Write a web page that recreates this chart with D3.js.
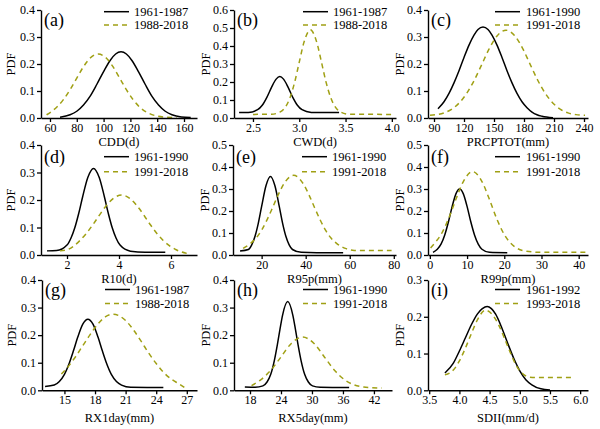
<!DOCTYPE html>
<html><head><meta charset="utf-8">
<script src="https://cdn.jsdelivr.net/npm/d3@7"></script>
<style>
body{margin:0;background:#fff}
svg{display:block;font-family:"Liberation Serif","Times New Roman",serif}
</style>
</head><body>
<svg id="c" width="600" height="429"></svg>
<script>
// ---------- DATA ----------
const panelIds = ["(a)","(b)","(c)","(d)","(e)","(f)","(g)","(h)","(i)"];
const xTitles = ["CDD(d)","CWD(d)","PRCPTOT(mm)","R10(d)","R95p(mm)","R99p(mm)","RX1day(mm)","RX5day(mm)","SDII(mm/d)"];
const legendEarly = ["1961-1987","1961-1987","1961-1990","1961-1990","1961-1990","1961-1990","1961-1987","1961-1990","1961-1992"];
const legendLate  = ["1988-2018","1988-2018","1991-2018","1991-2018","1991-2018","1991-2018","1988-2018","1991-2018","1993-2018"];

const xTicksA = [60,80,100,120,140,160];
const xTicksB = [2.5,3.0,3.5,4.0];
const xTicksC = [90,120,150,180,210,240];
const xTicksD = [2,4,6];
const xTicksE = [20,40,60,80];
const xTicksF = [0,10,20,30,40];
const xTicksG = [15,18,21,24,27];
const xTicksH = [18,24,30,36,42];
const xTicksI = [3.5,4.0,4.5,5.0,5.5,6.0];
const yMaxes = [0.4,0.6,0.4,0.4,0.5,0.5,0.4,0.4,0.3];

// early period (solid black) and late period (dashed) PDF curves: [x, pdf]
const cddEarly = [[67.5,0.003],[75,0.012],[80,0.025],[85,0.048],[90,0.081],[95,0.125],[100,0.172],[105,0.214],[109,0.237],[113,0.245],[117,0.237],[121,0.214],[126,0.172],[131,0.125],[136,0.081],[141,0.048],[146,0.025],[151,0.012],[158,0.004],[165,0.002]];
const cddLate  = [[57.5,0.012],[65,0.040],[70,0.068],[75,0.105],[80,0.148],[85,0.190],[90,0.222],[96,0.237],[102,0.222],[107,0.190],[112,0.148],[117,0.105],[122,0.068],[127,0.040],[134,0.017],[140,0.007],[147,0.003],[154.5,0.002]];

const cwdEarly = [[2.35,0.03],[2.45,0.031],[2.55,0.046],[2.6,0.071],[2.65,0.115],[2.7,0.170],[2.75,0.216],[2.79,0.231],[2.83,0.216],[2.88,0.170],[2.93,0.115],[2.98,0.071],[3.03,0.046],[3.13,0.031],[3.2,0.03],[3.43,0.03]];
const cwdLate  = [[2.5,0.02],[2.7,0.021],[2.8,0.035],[2.9,0.113],[2.95,0.198],[3.0,0.310],[3.05,0.419],[3.12,0.49],[3.19,0.419],[3.24,0.310],[3.29,0.198],[3.34,0.113],[3.44,0.035],[3.54,0.021],[4.0,0.02]];

const prcEarly = [[94,0.034],[100,0.060],[105,0.091],[110,0.130],[115,0.175],[120,0.224],[125,0.270],[130,0.307],[134,0.328],[139,0.337],[144,0.328],[148,0.307],[153,0.270],[158,0.224],[163,0.175],[168,0.130],[173,0.091],[178,0.060],[183,0.038],[188,0.022],[193,0.012],[198,0.0065],[209,0.001]];
const prcLate  = [[86,0.010],[100,0.019],[107.5,0.032],[115,0.055],[122.5,0.090],[130,0.138],[137.5,0.196],[145,0.255],[153.5,0.306],[162,0.325],[170.5,0.306],[179,0.255],[186.5,0.196],[194,0.138],[201.5,0.090],[209,0.055],[216.5,0.032],[224,0.019],[232,0.0125],[241,0.010]];

const r10Early = [[1.23,0.015],[1.6,0.016],[2.0,0.036],[2.15,0.061],[2.3,0.099],[2.45,0.151],[2.6,0.211],[2.8,0.282],[3.02,0.315],[3.24,0.282],[3.44,0.211],[3.59,0.151],[3.74,0.099],[3.89,0.061],[4.04,0.036],[4.44,0.014],[5.0,0.010],[5.78,0.010]];
const r10Late  = [[1.73,0.015],[2.0,0.019],[2.5,0.053],[2.75,0.079],[3.0,0.111],[3.5,0.178],[3.8,0.207],[4.1,0.218],[4.4,0.207],[4.7,0.178],[5.2,0.111],[5.45,0.079],[5.7,0.053],[6.2,0.019],[6.64,0.005]];

const r95Early = [[10.2,0.018],[14,0.025],[15.5,0.046],[17,0.085],[18.5,0.145],[20,0.221],[22,0.316],[24,0.357],[26,0.316],[28,0.221],[29.5,0.145],[31,0.085],[32.5,0.046],[34,0.025],[38,0.012],[45,0.01],[57,0.01]];
const r95Late  = [[11.6,0.03],[15,0.053],[17.5,0.077],[20,0.113],[22.5,0.161],[25,0.216],[27.5,0.273],[30,0.322],[34.5,0.362],[39,0.322],[41.5,0.273],[44,0.216],[46.5,0.161],[49,0.113],[51.5,0.077],[54,0.053],[58,0.03],[62,0.021],[79,0.02]];

const r99Early = [[0.85,0.012],[2,0.026],[3,0.049],[4,0.091],[5,0.151],[6,0.221],[7,0.278],[8,0.30],[9,0.278],[10,0.221],[11,0.151],[12,0.091],[13,0.049],[14,0.026],[16,0.012],[20.8,0.01]];
const r99Late  = [[0.2,0.032],[1.5,0.058],[3,0.093],[5,0.164],[7,0.253],[9,0.334],[11.5,0.379],[14,0.334],[16,0.253],[18,0.164],[20,0.093],[21.5,0.058],[23,0.035],[26,0.017],[30,0.012],[42.2,0.012]];

const rx1Early = [[13.1,0.014],[14.0,0.019],[14.5,0.032],[15.0,0.058],[15.5,0.101],[15.9,0.145],[16.3,0.192],[16.8,0.240],[17.3,0.258],[17.8,0.240],[18.3,0.192],[18.7,0.145],[19.1,0.101],[19.6,0.058],[20.1,0.032],[20.6,0.019],[21.5,0.011],[24.7,0.01]];
const rx1Late  = [[14.7,0.059],[15.3,0.083],[16,0.117],[16.75,0.159],[17.5,0.201],[18.25,0.239],[19,0.266],[19.8,0.276],[21,0.253],[21.75,0.220],[22.5,0.179],[23.25,0.136],[24,0.097],[24.75,0.064],[25.5,0.040],[26.25,0.023],[27,0.005]];

const rx5Early = [[17,0.012],[19,0.011],[20.5,0.016],[21.3,0.030],[22,0.057],[22.7,0.107],[23.3,0.166],[23.8,0.221],[24.3,0.272],[25.3,0.322],[26.3,0.272],[26.8,0.221],[27.3,0.166],[27.9,0.107],[28.6,0.057],[29.3,0.030],[30.1,0.016],[31.6,0.011],[37.2,0.01]];
const rx5Late  = [[18.3,0.017],[20,0.037],[22,0.072],[24,0.121],[26,0.170],[28.2,0.193],[30.4,0.170],[32.4,0.121],[34.4,0.072],[36.4,0.037],[38.1,0.020],[40,0.012],[43.5,0.008]];

const sdiiEarly = [[3.76,0.047],[3.9,0.074],[4.0,0.107],[4.1,0.143],[4.2,0.179],[4.3,0.208],[4.38,0.222],[4.46,0.228],[4.53,0.222],[4.6,0.207],[4.7,0.171],[4.8,0.128],[4.9,0.087],[5.0,0.053],[5.1,0.029],[5.2,0.015],[5.35,0.004],[5.5,0.001]];
const sdiiLate  = [[3.76,0.042],[3.9,0.055],[4.0,0.080],[4.1,0.115],[4.2,0.155],[4.3,0.192],[4.43,0.218],[4.55,0.205],[4.65,0.178],[4.75,0.140],[4.85,0.100],[4.95,0.065],[5.05,0.045],[5.15,0.036],[5.3,0.035],[5.85,0.035]];

const earlySeries = [cddEarly,cwdEarly,prcEarly,r10Early,r95Early,r99Early,rx1Early,rx5Early,sdiiEarly];
const lateSeries  = [cddLate,cwdLate,prcLate,r10Late,r95Late,r99Late,rx1Late,rx5Late,sdiiLate];
const xTickSets = [xTicksA,xTicksB,xTicksC,xTicksD,xTicksE,xTicksF,xTicksG,xTicksH,xTicksI];
const xFormats = ["d",".1f","d","d","d","d","d","d",".1f"];

// ---------- LAYOUT ----------
const layout = [
  {x0:41, x1:197, top:10, bottom:118, xd:[53.3,169.7]},
  {x0:234,x1:396, top:10, bottom:118, xd:[2.295,4.045]},
  {x0:428,x1:588, top:10, bottom:118, xd:[84,244]},
  {x0:41, x1:197, top:145,bottom:255, xd:[1,7]},
  {x0:233,x1:396, top:145,bottom:255, xd:[7,81]},
  {x0:428,x1:588, top:145,bottom:255, xd:[-0.5,42.5]},
  {x0:42, x1:197, top:280,bottom:390.3, xd:[12.8,28]},
  {x0:234,x1:392, top:280,bottom:390.3, xd:[14.9,45.5]},
  {x0:428,x1:588, top:280,bottom:390.3, xd:[3.48,6.13]}
];
const rowLegendY = [[1.7,15],[11.7,26.7],[9.5,23.5]];
const rowLabelY = [10,12,9.5];
const rowTitleOff = [23.5,23.5,28];
const colLegendX = [[63,88,93],[69,94,99],[67,92,98]];
const OLIVE = "#a0a014";
const FONT = "Liberation Serif, Times New Roman, serif";

const svg = d3.select("#c");
svg.append("rect").attr("width",600).attr("height",429).attr("fill","#fff");

layout.forEach((L,i)=>{
  const row = Math.floor(i/3), col = i%3;
  const x = d3.scaleLinear().domain(L.xd).range([L.x0,L.x1]);
  const y = d3.scaleLinear().domain([0,yMaxes[i]]).range([L.bottom,L.top]);
  const g = svg.append("g");
  const line = d3.line().x(d=>x(d[0])).y(d=>y(d[1])).curve(d3.curveMonotoneX);

  g.append("path").attr("d",line(earlySeries[i])).attr("fill","none")
    .attr("stroke","#000").attr("stroke-width",1.5);
  g.append("path").attr("d",line(lateSeries[i])).attr("fill","none")
    .attr("stroke",OLIVE).attr("stroke-width",1.5).attr("stroke-dasharray","5,4");

  const yt = d3.range(0, yMaxes[i]+1e-9, 0.1);
  const xa = g.append("g").attr("transform",`translate(0,${L.bottom})`)
    .call(d3.axisBottom(x).tickValues(xTickSets[i]).tickFormat(d3.format(xFormats[i]))
      .tickSizeInner(4).tickSizeOuter(0).tickPadding(1));
  const ya = g.append("g").attr("transform",`translate(${L.x0},0)`)
    .call(d3.axisLeft(y).tickValues(yt).tickFormat(d3.format(".1f"))
      .tickSizeInner(4).tickSizeOuter(0).tickPadding(2));
  [xa,ya].forEach(a=>{
    a.attr("font-family",FONT).attr("font-size",12);
    a.selectAll("path.domain").attr("stroke","#000").attr("stroke-width",1.4);
    a.selectAll(".tick line").attr("stroke","#000").attr("stroke-width",1.3);
    a.selectAll(".tick text").attr("fill","#000");
  });

  // axis titles
  g.append("text").attr("x",(L.x0+L.x1)/2).attr("y",L.bottom+rowTitleOff[row])
    .attr("text-anchor","middle").attr("dominant-baseline","central")
    .attr("font-size",12.5).attr("font-family",FONT).text(xTitles[i]);
  const cy = (L.top+L.bottom)/2, cx = L.x0 - (col===0?30:28);
  g.append("text").attr("transform",`translate(${cx},${cy}) rotate(-90)`)
    .attr("text-anchor","middle").attr("dominant-baseline","central")
    .attr("font-size",12.5).attr("font-family",FONT).text("PDF");

  // panel label
  g.append("text").attr("x",L.x0+3).attr("y",L.top+rowLabelY[row])
    .attr("dominant-baseline","central").attr("font-size",18).attr("font-family",FONT)
    .text(panelIds[i]);

  // legend
  const lx = colLegendX[col], ly = rowLegendY[row];
  const leg = [[legendEarly[i],"#000",null],[legendLate[i],OLIVE,"5,4"]];
  leg.forEach((e,k)=>{
    const yy = L.top+ly[k];
    g.append("line").attr("x1",L.x0+lx[0]).attr("x2",L.x0+lx[1]).attr("y1",yy).attr("y2",yy)
      .attr("stroke",e[1]).attr("stroke-width",1.5).attr("stroke-dasharray",e[2]);
    g.append("text").attr("x",L.x0+lx[2]).attr("y",yy).attr("dominant-baseline","central")
      .attr("font-size",12.5).attr("font-family",FONT).text(e[0]);
  });
});
</script>
</body></html>
